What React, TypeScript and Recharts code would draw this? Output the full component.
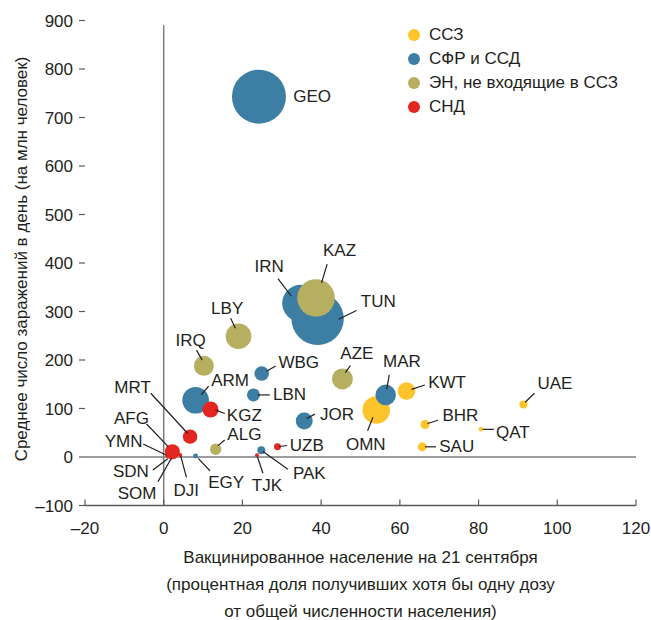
import { ReferenceLine, Scatter, ScatterChart, XAxis, YAxis, ZAxis } from "recharts";

const FONT = "'Liberation Sans', Arial, Helvetica, sans-serif";
const INK = "#231f20";
const AXIS = "#5a5a5a";

const groupNames = ["ССЗ", "СФР и ССД", "ЭН, не входящие в ССЗ", "СНД"];
const groupColors = ["#fdc42c", "#3d7ea5", "#b6af60", "#e3261f"];

// ССЗ
const gccCodes = ["OMN", "KWT", "BHR", "SAU", "QAT", "UAE"];
const gccVax = [54, 61.7, 66.4, 65.7, 80.6, 91.4];
const gccCases = [97, 136, 67, 21, 57, 108];
const gccSize = [190, 77, 20, 20, 5, 16];

// СФР и ССД
const fcsCodes = ["GEO", "IRN", "TUN", "WBG", "LBN", "ARM", "JOR", "MAR", "EGY", "PAK"];
const fcsVax = [24.2, 34.8, 39.1, 24.9, 22.8, 8.1, 35.7, 56.4, 8.1, 24.8];
const fcsCases = [743, 317, 285, 172, 128, 117, 74, 128, 2, 14];
const fcsSize = [729, 342, 686, 53, 42, 177, 72, 106, 6, 16];

// ЭН, не входящие в ССЗ
const emCodes = ["KAZ", "LBY", "IRQ", "AZE", "ALG"];
const emVax = [38.7, 19, 10.2, 45.4, 13.2];
const emCases = [328, 249, 188, 161, 16];
const emSize = [353, 164, 100, 110, 32];

// СНД
const licCodes = ["MRT", "KGZ", "AFG", "YMN", "SDN", "SOM", "DJI", "TJK", "UZB"];
const licVax = [6.7, 11.9, 2.2, 0.8, 1.1, 1.9, 4.2, 23.7, 28.9];
const licCases = [42, 98, 11, 2, 0, -3, 4, 3.5, 21];
const licSize = [52, 64, 56, 2, 2, 2, 4, 4, 12];

const xTicks = [-20, 0, 20, 40, 60, 80, 100, 120];
const yTicks = [-100, 0, 100, 200, 300, 400, 500, 600, 700, 800, 900];

const toPoints = (codes: string[], xs: number[], ys: number[], zs: number[]) =>
  codes.map((code, i) => ({ code, x: xs[i], y: ys[i], z: zs[i] }));

const series = [
  toPoints(gccCodes, gccVax, gccCases, gccSize),
  toPoints(fcsCodes, fcsVax, fcsCases, fcsSize),
  toPoints(emCodes, emVax, emCases, emSize),
  toPoints(licCodes, licVax, licCases, licSize),
];

// label placement relative to bubble centre: anchor, text offset, leader line
type Lab = { a: "start" | "middle" | "end"; dx: number; dy: number; line?: number[] };
const labelLayout: Record<string, Lab> = {
  OMN: { a: "middle", dx: -10.5, dy: 35, line: [-3.3, 7.3, -8.7, 20.7] },
  KWT: { a: "start", dx: 21.6, dy: -8.7, line: [5, -1.7, 18.3, -6] },
  BHR: { a: "start", dx: 17.4, dy: -8.6, line: [2.4, -1, 13, -4.3] },
  SAU: { a: "start", dx: 17, dy: 0, line: [2.7, 0, 13.7, 0] },
  QAT: { a: "start", dx: 15, dy: 3.4, line: [1.7, 0, 13, 0] },
  UAE: { a: "start", dx: 14, dy: -21.4, line: [1.7, -2.4, 11, -11.4] },
  GEO: { a: "start", dx: 34.3, dy: -0.5 },
  IRN: { a: "middle", dx: -31.5, dy: -37, line: [-22.7, -24.7, -9.3, -7] },
  TUN: { a: "start", dx: 43.2, dy: -17, line: [38.9, -8.3, 21, 0.5] },
  WBG: { a: "start", dx: 16.7, dy: -10.6, line: [4.7, -2.3, 14, -7.6] },
  LBN: { a: "start", dx: 19.6, dy: 0, line: [4.3, 0, 16.3, 0] },
  ARM: { a: "middle", dx: 34.5, dy: -19.3, line: [5.7, -5.7, 13, -14] },
  JOR: { a: "start", dx: 15.7, dy: -7, line: [2.4, -2.6, 10.7, -7] },
  MAR: { a: "middle", dx: 16.2, dy: -33.3, line: [3.6, -20, 1, -5.7] },
  EGY: { a: "start", dx: 12.6, dy: 26.7, line: [2.6, 2.3, 14.3, 14.7] },
  PAK: { a: "start", dx: 31.6, dy: 23, line: [1.6, 1.4, 26.6, 19] },
  KAZ: { a: "middle", dx: 23.5, dy: -47.8, line: [11.1, -33.8, 5.5, -15.1] },
  LBY: { a: "middle", dx: -11.3, dy: -28, line: [-7.8, -18, -3.1, -8] },
  IRQ: { a: "middle", dx: -13.3, dy: -25.7, line: [-7.3, -15.7, -1.7, -5.7] },
  AZE: { a: "middle", dx: 14.5, dy: -25, line: [3, -6.3, 8, -13.3] },
  ALG: { a: "start", dx: 11.7, dy: -14.3, line: [2.3, -3.6, 9, -9.3] },
  MRT: { a: "end", dx: -39.3, dy: -49, line: [-39.3, -43.4, -2.6, -3.4] },
  KGZ: { a: "start", dx: 16.3, dy: 5.7, line: [5, 0.7, 14.3, 4] },
  AFG: { a: "end", dx: -23.5, dy: -33.4, line: [-25.8, -27.7, -4.2, -5] },
  YMN: { a: "end", dx: -24.3, dy: -14.3, line: [-23.7, -12, -0.3, -0.7] },
  SDN: { a: "end", dx: -19.2, dy: 14.7, line: [-15.2, 13, -0.2, 1.7] },
  SOM: { a: "end", dx: -14.8, dy: 34.8, line: [-13.2, 23.2, 0.2, -0.2] },
  DJI: { a: "middle", dx: 6, dy: 35, line: [6.2, 22.3, 0.5, 1] },
  TJK: { a: "middle", dx: 9.9, dy: 29.7, line: [0.4, 1.4, 6, 18] },
  UZB: { a: "start", dx: 12.3, dy: -1, line: [1.6, -0.3, 9.6, -1.3] },
};

function Bubble(props: any) {
  const { cx, cy, size, width, fill, payload } = props;
  const r = size != null ? Math.sqrt(size / Math.PI) : width / 2;
  const l = labelLayout[payload.code];
  return (
    <g>
      <circle cx={cx} cy={cy} r={r} fill={fill} />
      {l?.line && (
        <line
          x1={cx + l.line[0]}
          y1={cy + l.line[1]}
          x2={cx + l.line[2]}
          y2={cy + l.line[3]}
          stroke={INK}
          strokeWidth={1.2}
        />
      )}
      {l && (
        <text
          x={cx + l.dx}
          y={cy + l.dy}
          textAnchor={l.a}
          dominantBaseline="central"
          fontSize={17}
          fontFamily={FONT}
          fill={INK}
        >
          {payload.code}
        </text>
      )}
    </g>
  );
}

const fmt = (v: number) => (v < 0 ? "\u2013" + Math.abs(v) : String(v));

function XTick(props: any) {
  const { x, y, payload } = props;
  return (
    <g>
      <line x1={x} y1={y} x2={x} y2={y - 6} stroke={AXIS} strokeWidth={1.2} />
      <text
        x={x}
        y={y + 22.5}
        textAnchor="middle"
        dominantBaseline="central"
        fontSize={17}
        fontFamily={FONT}
        fill={INK}
      >
        {fmt(payload.value)}
      </text>
    </g>
  );
}

const xTitle = [
  "Вакцинированное население на 21 сентября",
  "(процентная доля получивших хотя бы одну дозу",
  "от общей численности населения)",
];

export default function App() {
  return (
    <div style={{ position: "absolute", left: 0, top: 0, width: 651, height: 620 }}>
      <ScatterChart width={651} height={620} margin={{ top: 20.5, right: 0, bottom: 0, left: 0 }}>
        <XAxis
          type="number"
          dataKey="x"
          domain={[-20, 120]}
          ticks={xTicks}
          height={114.5}
          tickLine={false}
          tickSize={0}
          tickMargin={0}
          tick={<XTick />}
          axisLine={{ stroke: AXIS, strokeWidth: 1.5 }}
          label={{
            content: (p: any) => {
              const vb = p.viewBox;
              const cx = vb.x + vb.width / 2;
              return (
                <text
                  textAnchor="middle"
                  dominantBaseline="central"
                  fontSize={17}
                  fontFamily={FONT}
                  fill={INK}
                >
                  {xTitle.map((t, i) => (
                    <tspan key={i} x={cx} y={vb.y + 51.5 + i * 27}>
                      {t}
                    </tspan>
                  ))}
                </text>
              );
            },
          }}
        />
        <YAxis
          type="number"
          dataKey="y"
          domain={[-100, 900]}
          ticks={yTicks}
          width={85}
          axisLine={false}
          tickSize={6}
          tickMargin={6}
          tickLine={{ stroke: AXIS, strokeWidth: 1.2 }}
          tickFormatter={fmt}
          tick={{ fontSize: 17, fontFamily: FONT, fill: INK }}
          label={{
            content: (p: any) => {
              const vb = p.viewBox;
              const x = vb.x + 21;
              const y = vb.y + vb.height / 2 - 4;
              return (
                <text
                  transform={`translate(${x},${y}) rotate(-90)`}
                  textAnchor="middle"
                  dominantBaseline="central"
                  fontSize={17}
                  fontFamily={FONT}
                  fill={INK}
                >
                  Среднее число заражений в день (на млн человек)
                </text>
              );
            },
          }}
        />
        <YAxis
          yAxisId="r"
          orientation="right"
          type="number"
          domain={[-100, 900]}
          ticks={yTicks}
          width={15}
          axisLine={false}
          tickSize={6}
          tickLine={{ stroke: AXIS, strokeWidth: 1.2 }}
          tick={false}
        />
        <ZAxis type="number" dataKey="z" domain={[0, 1000]} range={[0, 1000 * Math.PI]} />
        <ReferenceLine y={0} stroke="#7d7d7d" strokeWidth={1.5} />
        <ReferenceLine
          segment={[
            { x: 0, y: -100 },
            { x: 0, y: 890 },
          ]}
          stroke="#7d7d7d"
          strokeWidth={1.5}
        />
        {series.map((data, i) => (
          <Scatter
            key={groupNames[i]}
            name={groupNames[i]}
            data={data}
            fill={groupColors[i]}
            shape={<Bubble />}
            isAnimationActive={false}
          />
        ))}
      </ScatterChart>
      <div
        style={{
          position: "absolute",
          left: 408,
          top: 23,
          fontFamily: FONT,
          fontSize: 17,
          color: INK,
        }}
      >
        {groupNames.map((g, i) => (
          <div key={g} style={{ display: "flex", alignItems: "center", height: 24, whiteSpace: "nowrap" }}>
            <span
              style={{
                width: 12,
                height: 12,
                borderRadius: "50%",
                background: groupColors[i],
                marginRight: 9,
                flex: "none",
              }}
            />
            {g}
          </div>
        ))}
      </div>
    </div>
  );
}
